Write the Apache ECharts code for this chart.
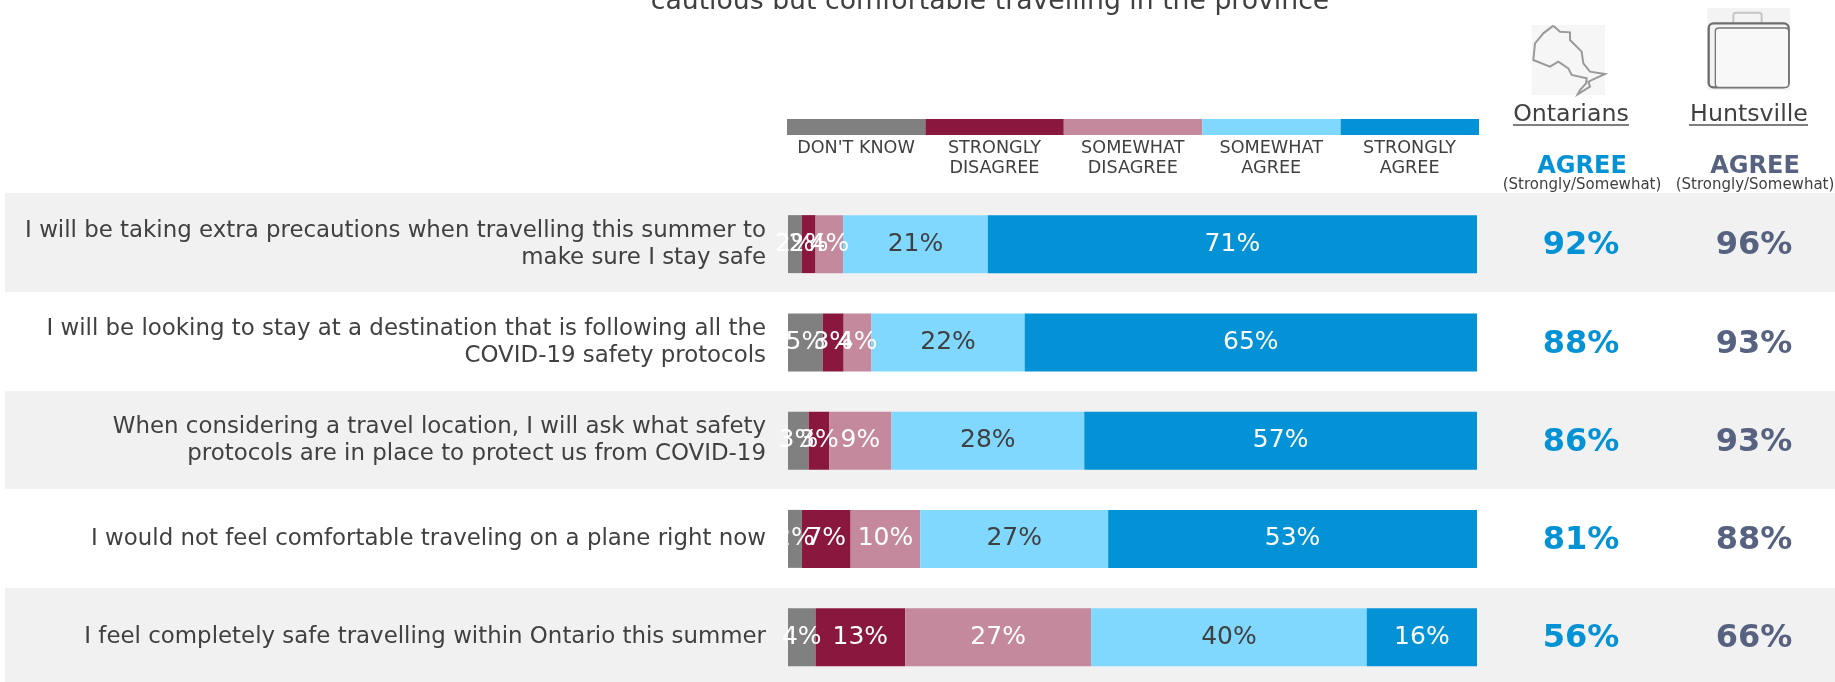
<!DOCTYPE html>
<html>
<head>
<meta charset="utf-8">
<style>html,body{margin:0;padding:0;background:#fff}#c{width:1835px;height:682px}</style>
<script src="https://cdn.jsdelivr.net/npm/echarts@6/dist/echarts.min.js"></script>
</head>
<body>
<div id="c"></div>
<script>
const statements = [
  'I will be taking extra precautions when travelling this summer to\nmake sure I stay safe',
  'I will be looking to stay at a destination that is following all the\nCOVID-19 safety protocols',
  'When considering a travel location, I will ask what safety\nprotocols are in place to protect us from COVID-19',
  'I would not feel comfortable traveling on a plane right now',
  'I feel completely safe travelling within Ontario this summer'
];
const responseNames = ["DON'T KNOW", 'STRONGLY\nDISAGREE', 'SOMEWHAT\nDISAGREE', 'SOMEWHAT\nAGREE', 'STRONGLY\nAGREE'];
const dontKnow = [2, 5, 3, 2, 4];
const stronglyDisagree = [2, 3, 3, 7, 13];
const somewhatDisagree = [4, 4, 9, 10, 27];
const somewhatAgree = [21, 22, 28, 27, 40];
const stronglyAgree = [71, 65, 57, 53, 16];
const groupNames = ['Ontarians', 'Huntsville'];
const ontariansAgree = [92, 88, 86, 81, 56];
const huntsvilleAgree = [96, 93, 93, 88, 66];

const responses = [dontKnow, stronglyDisagree, somewhatDisagree, somewhatAgree, stronglyAgree];
const swatches = ['#808080', '#8a183e', '#c4899d', '#80d8ff', '#0392d5'];
const labelInk = ['#fff', '#fff', '#fff', '#404040', '#fff'];
const FONT = '"DejaVu Sans", sans-serif';
const INK = '#404040';

// Every row fills the whole track: each segment is its share of the row's rounded total.
const rowTotal = statements.map((_, r) => responses.reduce((s, a) => s + a[r], 0));

const barSeries = responses.map((vals, i) => ({
  type: 'bar',
  name: responseNames[i],
  stack: 'share',
  barWidth: 58,
  itemStyle: { color: swatches[i] },
  data: vals.map((v, r) => v / rowTotal[r] * 100),
  label: {
    show: true,
    position: 'inside',
    offset: [0, 1.5],
    fontFamily: FONT,
    fontSize: 25,
    color: labelInk[i],
    formatter: p => vals[p.dataIndex] + '%'
  },
  labelLayout: { hideOverlap: false }
}));

const agreeSeries = [ontariansAgree, huntsvilleAgree].map((vals, i) => ({
  type: 'scatter',
  name: groupNames[i],
  xAxisIndex: 1,
  yAxisIndex: 1,
  symbolSize: 0,
  itemStyle: { opacity: 1 },
  data: vals.map((v, r) => [groupNames[i], r, v]),
  label: {
    show: true,
    position: 'inside',
    offset: [0, 2],
    fontFamily: FONT,
    fontWeight: 'bold',
    fontSize: 32,
    opacity: 1,
    color: i === 0 ? '#0392d5' : '#56627f',
    formatter: p => p.value[2] + '%'
  }
}));

const txt = (text, x, y, size, fill, extra) => ({
  type: 'text', z: 5,
  style: Object.assign({ text, x, y, fill, align: 'center', verticalAlign: 'middle',
    font: `${size}px ${FONT}` }, extra || {})
});
const band = (y, h) => ({ type: 'rect', z: -10, silent: true,
  shape: { x: 5, y, width: 1830, height: h }, style: { fill: '#f1f1f1' } });

// Small outline icons above the two summary columns
const ontarioOutline = [[220,77],[190,100],[165,130],[160,180],[210,200],[235,185],[265,205],[275,225],[320,235],[318,250],[300,270],[293,283],[330,260],[325,245],[375,222],[330,215],[310,190],[305,155],[270,120],[270,97],[240,95],[220,77]];
const ontarioIcon = {
  type: 'group', x: 1480, y: 0, scaleX: 1 / 3, scaleY: 1 / 3,
  children: [
    { type: 'rect', shape: { x: 155, y: 75, width: 220, height: 210 }, style: { fill: '#f6f6f6' } },
    { type: 'polyline', shape: { points: ontarioOutline }, style: { stroke: '#9a9a9a', lineWidth: 6, fill: 'none' } }
  ]
};
const suitcaseIcon = {
  type: 'group', x: 1480, y: 0, scaleX: 1 / 3, scaleY: 1 / 3,
  children: [
    { type: 'rect', shape: { x: 682, y: 24, width: 248, height: 246 }, style: { fill: '#f3f3f3' } },
    { type: 'rect', shape: { x: 760, y: 38, width: 85, height: 45, r: 8 }, style: { stroke: '#c4c4c4', lineWidth: 6, fill: 'none' } },
    { type: 'rect', shape: { x: 686, y: 70, width: 240, height: 192, r: 14 }, style: { stroke: '#6e6e6e', lineWidth: 7, fill: '#f3f3f3' } },
    { type: 'rect', shape: { x: 706, y: 84, width: 220, height: 178, r: 10 }, style: { stroke: '#777', lineWidth: 4, fill: '#f8f8f8' } }
  ]
};

const option = {
  backgroundColor: '#fff',
  animation: false,
  textStyle: { fontFamily: FONT },
  title: {
    text: 'cautious but comfortable travelling in the province',
    left: 985, top: -16, textAlign: 'center',
    textStyle: { fontFamily: FONT, fontWeight: 'normal', fontSize: 26.7, color: INK }
  },
  legend: {
    left: 787, top: 119, orient: 'horizontal',
    itemWidth: 138.4, itemHeight: 16, itemGap: 0, padding: 0, icon: 'rect',
    selectedMode: false,
    data: responseNames,
    formatter: () => ''
  },
  grid: [
    { left: 788, top: 195, width: 689, height: 491.25, outerBoundsMode: 'none' },
    { left: 1581, top: 195, width: 173, height: 491.25, outerBoundsMode: 'none' }
  ],
  xAxis: [
    { type: 'value', min: 0, max: 100, show: false, gridIndex: 0 },
    { type: 'category', data: groupNames, boundaryGap: false, show: false, gridIndex: 1 }
  ],
  yAxis: [
    {
      type: 'category', inverse: true, gridIndex: 0, data: statements,
      axisLine: { show: false }, axisTick: { show: false },
      axisLabel: { fontFamily: FONT, fontSize: 22.9, lineHeight: 27, color: INK, margin: 22, align: 'right', padding: [4, 0, 0, 0] }
    },
    { type: 'category', inverse: true, gridIndex: 1, data: statements, show: false }
  ],
  series: barSeries.concat(agreeSeries),
  graphic: [
    band(193, 99), band(391, 98), band(588, 94),
    ...responseNames.map((n, i) => txt(n, 856 + i * 138.4, n.includes('\n') ? 158 : 148, 17.6, INK, { lineHeight: 20 })),
    ontarioIcon, suitcaseIcon,
    txt(groupNames[0], 1571, 115, 23.7, INK),
    { type: 'line', z: 5, shape: { x1: 1513, y1: 125, x2: 1629, y2: 125 }, style: { stroke: '#555', lineWidth: 1.5 } },
    txt(groupNames[1], 1749, 115, 23.7, INK),
    { type: 'line', z: 5, shape: { x1: 1689, y1: 125, x2: 1808, y2: 125 }, style: { stroke: '#555', lineWidth: 1.5 } },
    txt('AGREE', 1582, 167, 24, '#0392d5', { font: `bold 24px ${FONT}` }),
    txt('AGREE', 1755, 167, 24, '#56627f', { font: `bold 24px ${FONT}` }),
    txt('(Strongly/Somewhat)', 1582, 185.5, 15, INK),
    txt('(Strongly/Somewhat)', 1755, 185.5, 15, INK)
  ]
};

const chart = echarts.init(document.getElementById('c'), null, { renderer: 'canvas' });
chart.setOption(option);
</script>
</body>
</html>
